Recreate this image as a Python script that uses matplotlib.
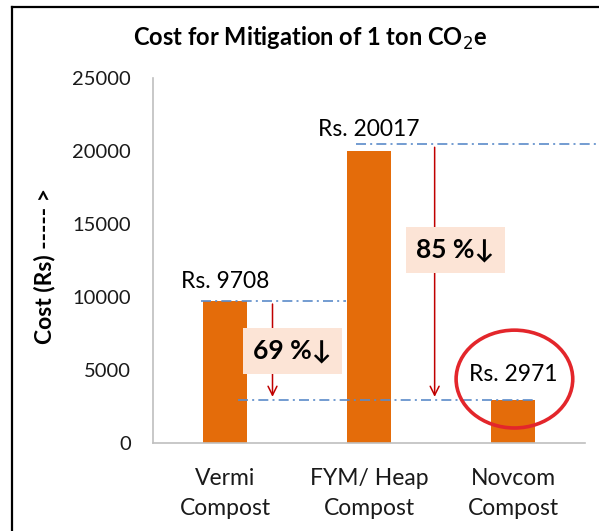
import matplotlib.pyplot as plt
from matplotlib.patches import Ellipse, Arc
from matplotlib.lines import Line2D

categories = ["Vermi\nCompost", "FYM/ Heap\nCompost", "Novcom\nCompost"]
cost = [9708, 20017, 2971]
cost_labels = ["Rs. 9708", "Rs. 20017", "Rs. 2971"]
reduction = ["69 %\u2193", "85 %\u2193"]

plt.rcParams['font.family'] = ['Lato', 'DejaVu Sans']

fig = plt.figure(figsize=(5.99, 5.31), dpi=100)
ax = fig.add_axes([0.2554, 0.1657, 0.7212, 0.6874])

x = range(len(cost))
ax.bar(x, cost, width=0.31, color='#e46c0a', zorder=2)
ax.set_xlim(-0.5, 2.5)
ax.set_ylim(0, 25000)
ax.set_yticks(range(0, 25001, 5000))
ax.set_xticks(list(x))
ax.set_xticklabels(categories, fontsize=16.5, linespacing=1.5)
ax.tick_params(axis='y', length=0, pad=16, labelsize=14.5, labelcolor='#1a1a1a')
ax.tick_params(axis='x', length=0, pad=18, labelcolor='#1a1a1a')
for s in ['top', 'right']:
    ax.spines[s].set_visible(False)
for s in ['left', 'bottom']:
    ax.spines[s].set_color('#bfbfbf')
    ax.spines[s].set_linewidth(1.2)

ax.set_ylabel("Cost (Rs) ----- >", fontsize=16.5, fontweight='bold')
ax.yaxis.set_label_coords(-0.225, 0.485)
ax.set_title("Cost for Mitigation of 1 ton CO$_2$e", fontsize=17, fontweight='bold',
             x=0.364, y=1.065)

# value labels
offs = [14, 15, 18]
for i, v in enumerate(cost):
    ax.annotate(cost_labels[i], (i, v), xytext=(0, offs[i]), textcoords='offset points',
                ha='center', va='center', fontsize=16.5)

# dash-dot guide lines
dd = dict(color='#5b8bc9', lw=1.2, ls=(0, (6, 2.5, 1.2, 2.5)), clip_on=False, zorder=3)
ax.plot([-0.17, 0.84], [cost[0], cost[0]], **dd)
ax.plot([0.91, 2.61], [cost[1] + 430, cost[1] + 430], **dd)
ax.plot([0.09, 2.14], [cost[2], cost[2]], **dd)

# reduction arrows
ap = dict(arrowstyle='->', color='#c00000', lw=1.1, mutation_scale=16)
ax.annotate('', xy=(0.33, cost[2]), xytext=(0.33, cost[0]), arrowprops=ap, zorder=3)
ax.annotate('', xy=(1.456, cost[2]), xytext=(1.456, cost[1] + 430), arrowprops=ap, zorder=3)

# reduction boxes
bx = dict(boxstyle='square,pad=0.4', fc='#fce4d6', ec='none')
ax.text(0.468, 6300, reduction[0], ha='center', va='center', fontsize=19,
        fontweight='bold', bbox=bx, zorder=4)
ax.text(1.6, 13220, reduction[1], ha='center', va='center', fontsize=19,
        fontweight='bold', bbox=bx, zorder=4)

# hand-drawn red circle around Novcom
ax.add_patch(Ellipse((2.01, 4380), 0.81, 6700, fill=False, ec='#e3262b', lw=2.6,
                     clip_on=False, zorder=5))
ax.add_patch(Arc((2.03, 4200), 0.80, 6200, theta1=-70, theta2=-15, ec='#e3262b',
                 lw=2.2, clip_on=False, zorder=5))

# outer frame
fig.add_artist(Line2D([0.02, 0.02], [0, 0.987], color='black', lw=1.6))
fig.add_artist(Line2D([0.02, 1.0], [0.987, 0.987], color='black', lw=1.6))

fig.savefig('out.png', dpi=100)
